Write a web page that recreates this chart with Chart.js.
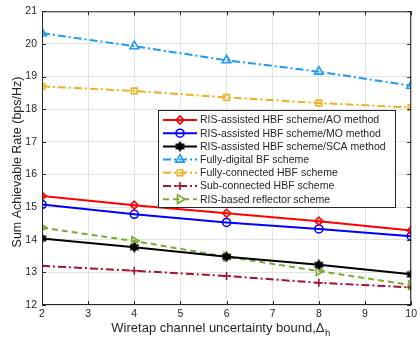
<!DOCTYPE html>
<html><head><meta charset="utf-8">
<script src="https://cdn.jsdelivr.net/npm/chart.js@4/dist/chart.umd.min.js"></script>
<style>html,body{margin:0;padding:0;background:#fff}#wrap{position:relative;width:420px;height:337px}</style>
</head><body><div id="wrap"><canvas id="c" width="420" height="337"></canvas></div>
<script>
const xValues = [2, 4, 6, 8, 10];
const aoMethod = [15.34, 15.06, 14.81, 14.57, 14.28];
const moMethod = [15.08, 14.78, 14.53, 14.33, 14.11];
const scaMethod = [14.04, 13.77, 13.48, 13.23, 12.94];
const fullyDigital = [20.33, 19.93, 19.50, 19.15, 18.72];
const fullyConnected = [18.70, 18.56, 18.36, 18.19, 18.05];
const subConnected = [13.20, 13.05, 12.89, 12.68, 12.54];
const risReflector = [14.37, 13.96, 13.48, 13.04, 12.61];
const seriesNames = ['RIS-assisted HBF scheme/AO method','RIS-assisted HBF scheme/MO method','RIS-assisted HBF scheme/SCA method','Fully-digital BF scheme','Fully-connected HBF scheme','Sub-connected HBF scheme','RIS-based reflector scheme'];
const xTitle = 'Wiretap channel uncertainty bound,\u0394';
const xTitleSub = 'h';
const yTitle = 'Sum Achievable Rate (bps/Hz)';

function hexagram(size){
  const cv=document.createElement('canvas');cv.width=size;cv.height=size;
  const g=cv.getContext('2d');const c=size/2;const R=size/2-0.5,r=R*0.55;
  g.beginPath();
  for(let i=0;i<12;i++){const a=-Math.PI/2+i*Math.PI/6;const rr=i%2?r:R;const px=c+rr*Math.cos(a),py=c+rr*Math.sin(a);i?g.lineTo(px,py):g.moveTo(px,py);}
  g.closePath();g.fillStyle='#000';g.fill();g.lineWidth=1;g.strokeStyle='#000';g.stroke();
  return cv;
}
const star=hexagram(11);
const pts=v=>xValues.map((x,i)=>({x:x,y:v[i]}));
const dd=[8,3,2,3];
const specs=[
 {d:aoMethod,c:'#FF0000',ps:'rectRot',r:4,dash:[],w:2},
 {d:moMethod,c:'#0000FF',ps:'circle',r:4,dash:[],w:2},
 {d:scaMethod,c:'#000000',ps:star,r:5,dash:[],w:2},
 {d:fullyDigital,c:'#1E9BF5',ps:'triangle',r:5,dash:dd,w:2},
 {d:fullyConnected,c:'#EDB120',ps:'rect',r:4,dash:dd,w:2},
 {d:subConnected,c:'#A2142F',ps:'cross',r:4,dash:dd,w:2},
 {d:risReflector,c:'#77AC30',ps:'triangle',r:5,dash:[6,4],w:2,rot:90}
];
const datasets=specs.map((s,i)=>({label:seriesNames[i],data:pts(s.d),borderColor:s.c,backgroundColor:'rgba(255,255,255,0)',borderWidth:s.w,borderDash:s.dash,pointStyle:s.ps,pointRadius:s.r,pointBorderWidth:1.6,pointBorderColor:s.c,pointBackgroundColor:'rgba(255,255,255,0)',pointRotation:s.rot||0,tension:0,fill:false}));

const FONT='"Liberation Sans", Arial, sans-serif';
const deco={id:'deco',
 afterDatasetsDraw(chart){
  const ctx=chart.ctx,a=chart.chartArea,xs=chart.scales.x,ys=chart.scales.y;
  ctx.save();
  ctx.strokeStyle='#262626';ctx.lineWidth=1;ctx.setLineDash([]);
  ctx.strokeRect(a.left+0.5,a.top+0.5,a.right-a.left-1,a.bottom-a.top-1);
  ctx.beginPath();
  for(let v=2;v<=10;v++){const px=Math.round(xs.getPixelForValue(v))+0.5;ctx.moveTo(px,a.bottom);ctx.lineTo(px,a.bottom-4);ctx.moveTo(px,a.top);ctx.lineTo(px,a.top+4);}
  for(let v=12;v<=21;v++){const py=Math.round(ys.getPixelForValue(v))+0.5;ctx.moveTo(a.left,py);ctx.lineTo(a.left+4,py);ctx.moveTo(a.right,py);ctx.lineTo(a.right-4,py);}
  ctx.stroke();
  // legend
  const lx=a.left+116,ly=110,lw=237,lh=97;
  ctx.fillStyle='#fff';ctx.fillRect(lx,ly,lw,lh);
  ctx.strokeStyle='#262626';ctx.lineWidth=1;ctx.strokeRect(lx+0.5,ly+0.5,lw,lh);
  ctx.font='10.5px '+FONT;ctx.textBaseline='middle';ctx.textAlign='left';
  chart.data.datasets.forEach((ds,i)=>{
   const y=ly+10+i*13.2;
   ctx.strokeStyle=ds.borderColor;ctx.lineWidth=ds.borderWidth;ctx.setLineDash(ds.borderDash);
   ctx.beginPath();ctx.moveTo(lx+5,y);ctx.lineTo(lx+39,y);ctx.stroke();
   ctx.setLineDash([]);ctx.lineWidth=ds.pointBorderWidth;ctx.fillStyle='rgba(255,255,255,0)';
   Chart.helpers.drawPoint(ctx,{pointStyle:ds.pointStyle,rotation:ds.pointRotation,radius:ds.pointRadius,borderWidth:ds.pointBorderWidth},lx+22,y);
   ctx.fillStyle='#262626';ctx.fillText(ds.label,lx+42,y+0.5);
  });
  // titles
  ctx.fillStyle='#262626';
  ctx.textBaseline='alphabetic';
  const cx=(a.left+a.right)/2-6;
  ctx.font='13px '+FONT;const w1=ctx.measureText(xTitle).width;
  ctx.font='9.5px '+FONT;const w2=ctx.measureText(xTitleSub).width;
  const sx=cx-(w1+w2)/2;
  ctx.textAlign='left';ctx.font='13px '+FONT;ctx.fillText(xTitle,sx,332);
  ctx.font='9.5px '+FONT;ctx.fillText(xTitleSub,sx+w1+0.5,336);
  ctx.font='12.5px '+FONT;
  ctx.translate(18,162);ctx.rotate(-Math.PI/2);ctx.textAlign='center';ctx.textBaseline='middle';
  ctx.fillText(yTitle,0,0);
  ctx.restore();
 }};

new Chart(document.getElementById('c'),{
 type:'line',data:{datasets},
 options:{responsive:false,animation:false,devicePixelRatio:1,
  layout:{padding:{top:11,right:6,left:0,bottom:0}},
  plugins:{legend:{display:false},tooltip:{enabled:false}},
  scales:{
   x:{type:'linear',min:2,max:10,ticks:{stepSize:1,color:'#262626',font:{size:10.5,family:FONT},padding:3,maxRotation:0},
      grid:{color:'#e3e3e3',drawTicks:false},border:{display:false},
      afterFit(s){s.height=32;}},
   y:{type:'linear',min:12,max:21,ticks:{stepSize:1,color:'#262626',font:{size:10.5,family:FONT},padding:5},
      grid:{color:'#e3e3e3',drawTicks:false},border:{display:false},
      afterFit(s){s.width=42;}}
  }},
 plugins:[deco]
});
</script></body></html>
